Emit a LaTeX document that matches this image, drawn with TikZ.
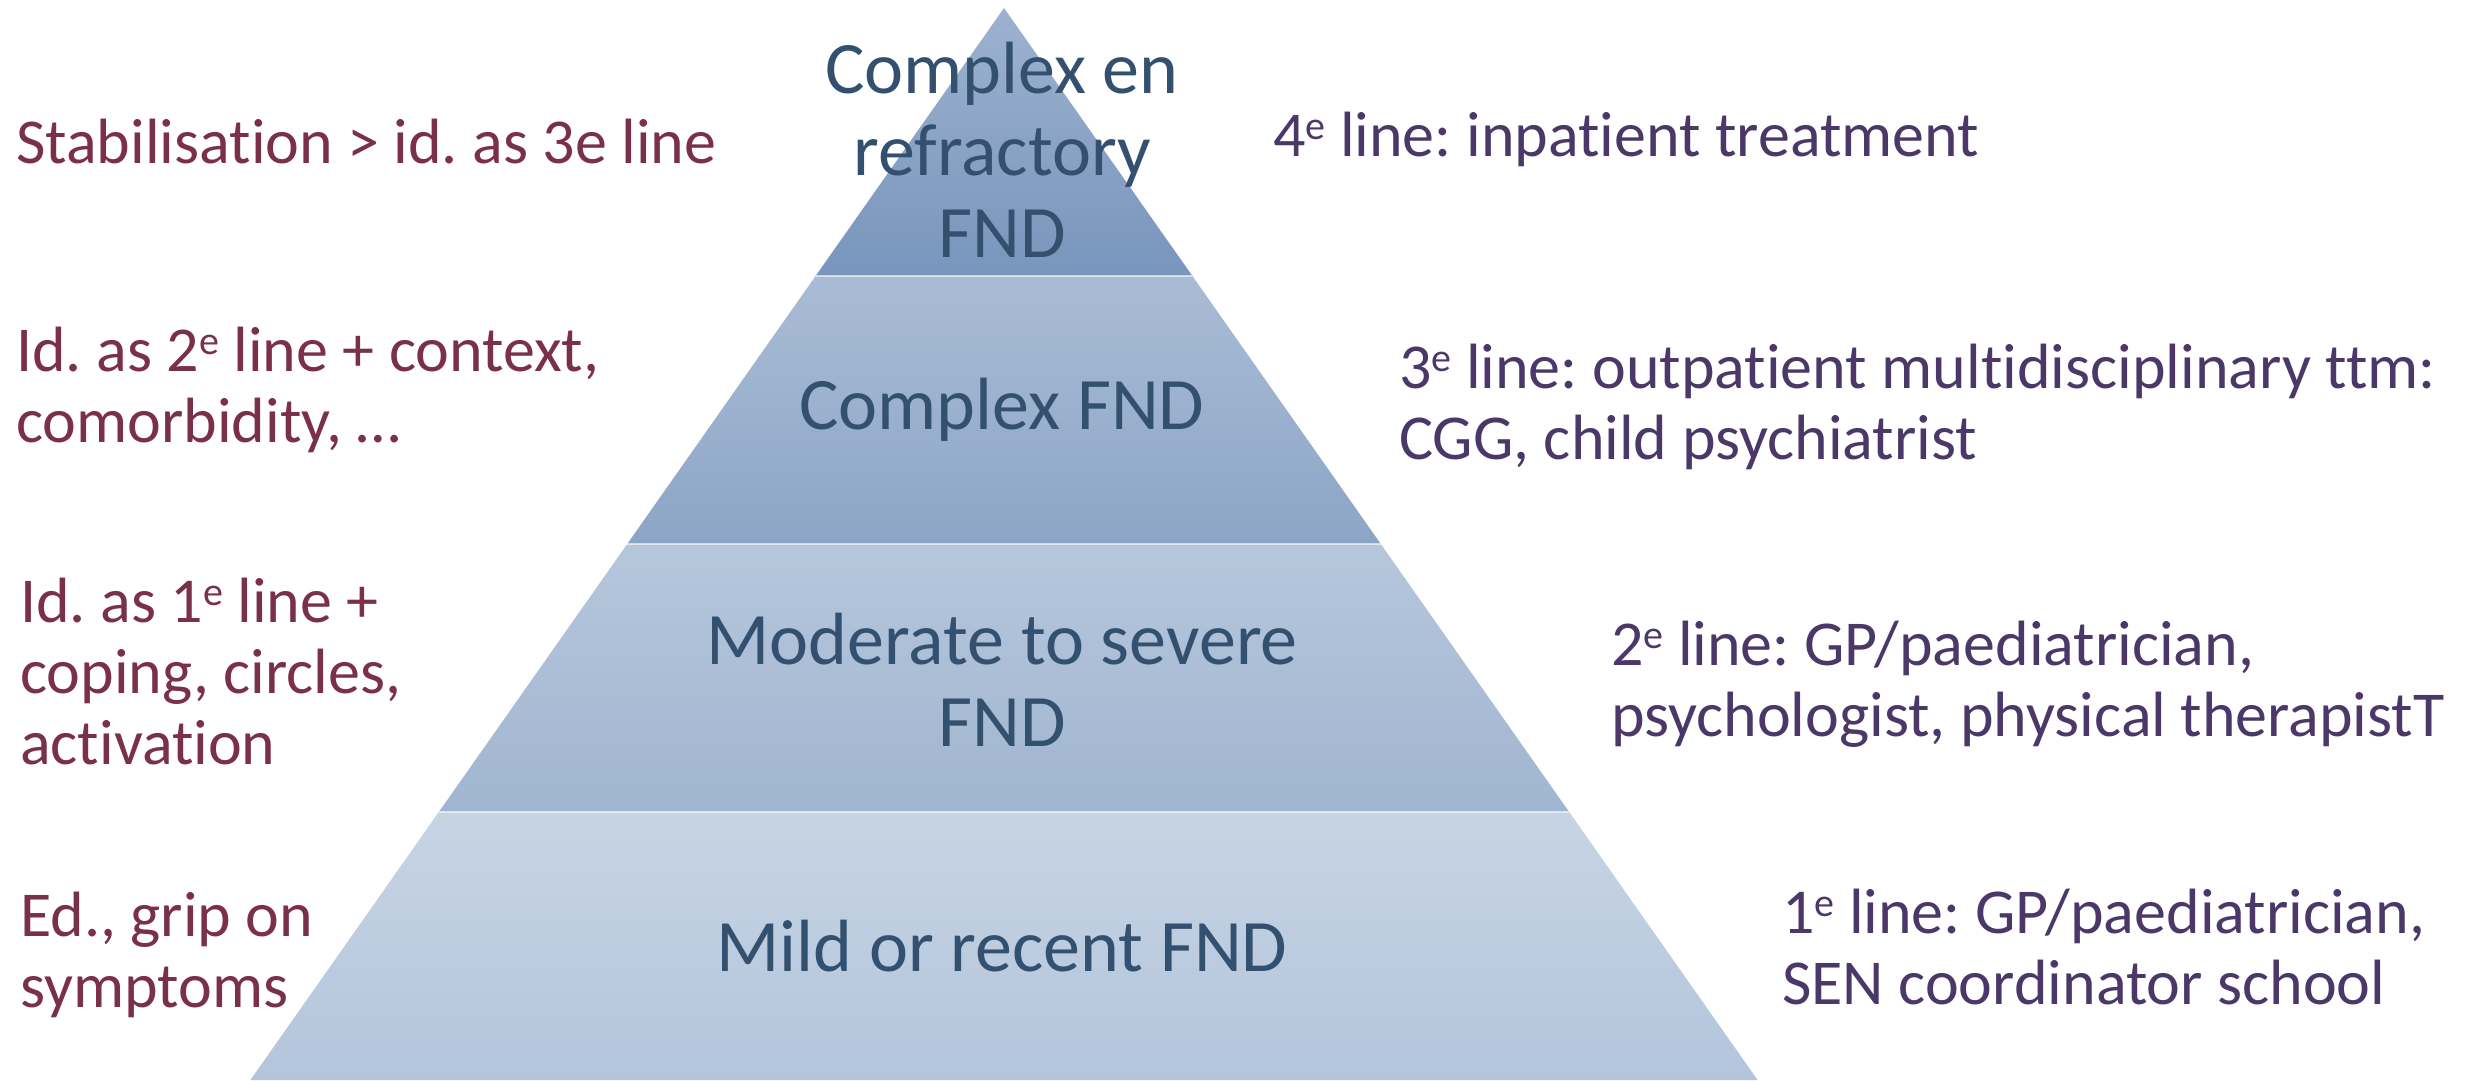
\documentclass[tikz,border=0pt]{standalone}
\usepackage{fontspec}
\setmainfont{Carlito}[Ligatures={NoCommon}]
\frenchspacing
\definecolor{tierText}{HTML}{34506F}
\definecolor{leftText}{HTML}{7A3049}
\definecolor{rightText}{HTML}{4B3869}
\definecolor{tierAtop}{HTML}{9DB2CF}
\definecolor{tierAbot}{HTML}{7895BC}
\definecolor{tierBtop}{HTML}{A9BCD5}
\definecolor{tierBbot}{HTML}{8CA5C6}
\definecolor{tierCtop}{HTML}{B6C7DC}
\definecolor{tierCbot}{HTML}{A0B5D0}
\definecolor{tierDtop}{HTML}{C7D4E4}
\definecolor{tierDbot}{HTML}{B3C5DC}
% raised ordinal suffix
\newcommand{\ordsup}[1]{\raisebox{17pt}{\fontsize{40}{40}\selectfont #1}}
\begin{document}
\begin{tikzpicture}[x=1pt,y=-1pt,
  tierlabel/.style={inner sep=0pt, align=center, text=tierText,
    font=\fontsize{74}{82}\selectfont},
  leftnote/.style={inner sep=0pt, anchor=west, align=left, text=leftText,
    font=\fontsize{64}{71}\selectfont},
  rightnote/.style={inner sep=0pt, anchor=west, align=left, text=rightText,
    font=\fontsize{64}{71}\selectfont},
  seam/.style={draw=white, line width=1.5pt, draw opacity=0.6}]
\useasboundingbox (0,0) rectangle (2471,1080);

% pyramid tiers, apex (1004,8), base y=1080
\coordinate (apex) at (1004,8);
\coordinate (l1) at (815.6,276);  \coordinate (r1) at (1192.4,276);
\coordinate (l2) at (627.2,544);  \coordinate (r2) at (1380.8,544);
\coordinate (l3) at (438.8,812);  \coordinate (r3) at (1569.2,812);
\coordinate (l4) at (250.4,1080); \coordinate (r4) at (1757.6,1080);

\shade[top color=tierAtop, bottom color=tierAbot] (apex) -- (r1) -- (l1) -- cycle;
\shade[top color=tierBtop, bottom color=tierBbot] (l1) -- (r1) -- (r2) -- (l2) -- cycle;
\shade[top color=tierCtop, bottom color=tierCbot] (l2) -- (r2) -- (r3) -- (l3) -- cycle;
\shade[top color=tierDtop, bottom color=tierDbot] (l3) -- (r3) -- (r4) -- (l4) -- cycle;
\draw[seam] (l1) -- (r1);
\draw[seam] (l2) -- (r2);
\draw[seam] (l3) -- (r3);

% tier labels
\node[tierlabel] (t1) at (1002,150) {Complex en\\refractory\\FND};
\node[tierlabel] (t2) at (1002,410) {Complex FND};
\node[tierlabel] (t3) at (1002,680) {Moderate to severe\\FND};
\node[tierlabel] (t4) at (1002,946) {Mild or recent FND};

% left notes
\node[leftnote] (n1) at (16,142) {Stabilisation > id. as 3e line};
\node[leftnote] (n2) at (16,390) {Id. as 2\ordsup{e} line + context,\\comorbidity, …};
\node[leftnote] (n3) at (20,672) {Id. as 1\ordsup{e} line +\\coping, circles,\\activation};
\node[leftnote] (n4) at (20,955) {Ed., grip on\\symptoms};

% right notes
\node[rightnote] (m1) at (1273,139) {4\ordsup{e} line: inpatient treatment};
\node[rightnote] (m2) at (1399,407) {3\ordsup{e} line: outpatient multidisciplinary ttm:\\CGG, child psychiatrist};
\node[rightnote] (m3) at (1611,684) {2\ordsup{e} line: GP/paediatrician,\\psychologist, physical therapistT};
\node[rightnote] (m4) at (1782,947) {1\ordsup{e} line: GP/paediatrician,\\SEN coordinator school};
\end{tikzpicture}
\end{document}
